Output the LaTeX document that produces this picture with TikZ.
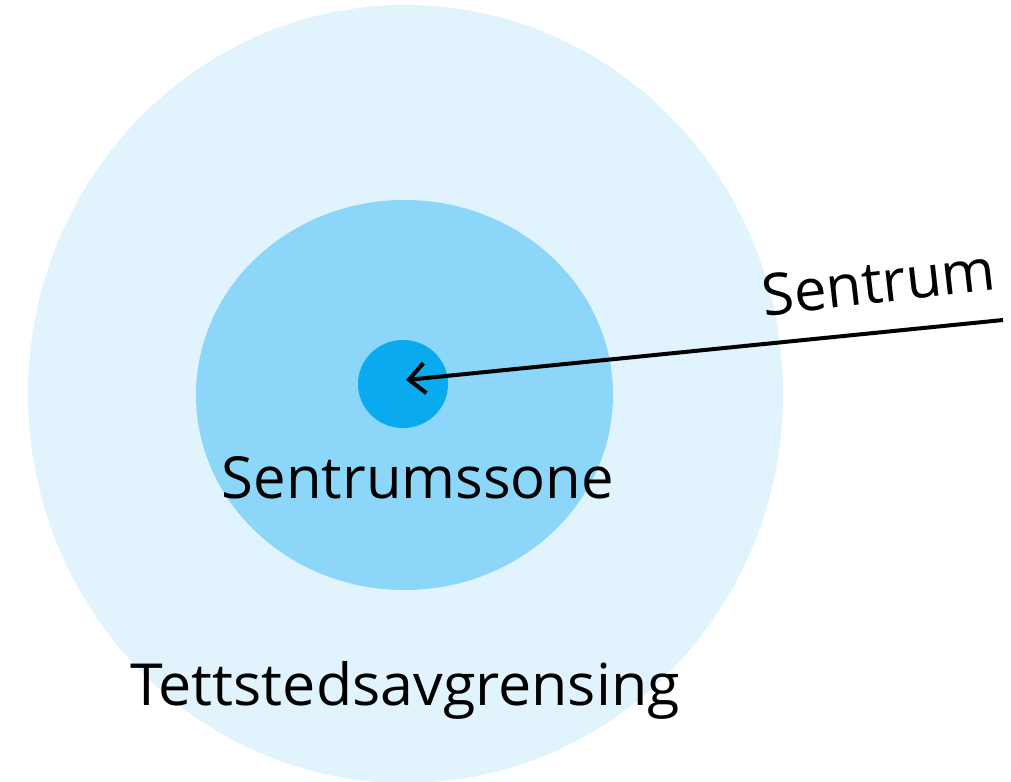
\documentclass[tikz,border=0pt]{standalone}
\usepackage{fontspec}
\setmainfont{Open Sans}
\usetikzlibrary{shapes.geometric,arrows.meta}
\definecolor{outerblue}{HTML}{E1F3FD}
\definecolor{midblue}{HTML}{8BD6F9}
\definecolor{coreblue}{HTML}{0AAAEE}
\tikzset{
  zone/.style={ellipse, draw=none, inner sep=0pt},
  lbl/.style={font=\fontsize{58}{60}\selectfont, text=black, inner sep=0pt, anchor=base},
  pointer/.style={draw=black, line width=4pt, -{Straight Barb[length=16pt,width=30pt,line width=4pt]}}
}
\begin{document}
\begin{tikzpicture}[x=1pt,y=-1pt]
\useasboundingbox (0,0) rectangle (1011,781);
\node[zone, fill=outerblue, minimum width=755pt, minimum height=778pt] (outer) at (405.5,394) {};
\node[zone, fill=midblue, minimum width=417pt, minimum height=390pt] (mid) at (404.5,395) {};
\node[zone, fill=coreblue, minimum width=90pt, minimum height=88pt] (core) at (403,384) {};
\coordinate (tail) at (1003,320);
\coordinate (tip) at (406,380);
\draw[pointer] (tail) -- (tip);
\node[lbl] (szone) at (418,498) {Sentrumssone};
\node[lbl, xscale=1.02] (tett) at (405,705) {Tettstedsavgrensing};
\node[lbl, rotate=6.5] (sentrum) at (881,303) {Sentrum};
\end{tikzpicture}
\end{document}
